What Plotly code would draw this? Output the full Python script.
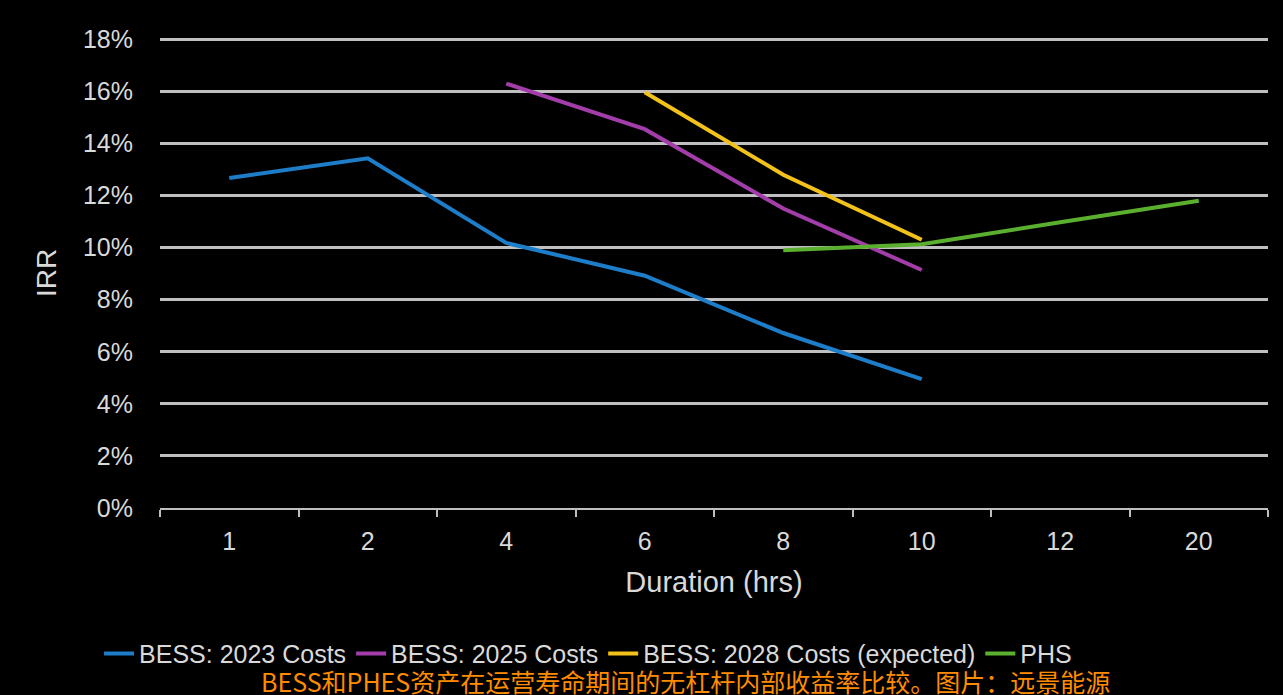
import plotly.graph_objects as go

# Storage duration categories (hours)
durations = ["1", "2", "4", "6", "8", "10", "12", "20"]

# Unlevered IRR (%) by duration
bess_2023 = [12.67, 13.43, 10.18, 8.92, 6.72, 4.95, None, None]
bess_2025 = [None, None, 16.3, 14.55, 11.5, 9.14, None, None]
bess_2028 = [None, None, None, 15.97, 12.8, 10.3, None, None]
phs = [None, None, None, None, 9.9, 10.13, 10.97, 11.8]

series_names = ["BESS: 2023 Costs", "BESS: 2025 Costs",
                "BESS: 2028 Costs (expected)", "PHS"]
series_values = [bess_2023, bess_2025, bess_2028, phs]
series_colors = ["#1E7DC8", "#A23DAA", "#F2C21B", "#5BAF2F"]

y_ticks = [0, 2, 4, 6, 8, 10, 12, 14, 16, 18]
y_tick_labels = [f"{v}%" for v in y_ticks]

caption = "BESS和PHES资产在运营寿命期间的无杠杆内部收益率比较。图片：远景能源"

FONT = "Liberation Sans, Arial, sans-serif"
TEXT = "#D9D9D9"
AXIS = "#BFBFBF"

fig = go.Figure()
for name, vals, color in zip(series_names, series_values, series_colors):
    fig.add_trace(go.Scatter(
        x=durations, y=vals, name=name, mode="lines",
        line=dict(color=color, width=4),
        connectgaps=False,
    ))

fig.update_layout(
    width=1283, height=695,
    paper_bgcolor="black", plot_bgcolor="black",
    margin=dict(l=160, r=15, t=38, b=187),
    font=dict(family=FONT, color=TEXT),
    showlegend=True,
    legend=dict(
        orientation="h", x=-0.055, xanchor="left", y=-0.31, yanchor="middle",
        font=dict(size=25, color=TEXT, family=FONT),
        itemwidth=30, tracegroupgap=0, bgcolor="rgba(0,0,0,0)",
    ),
    xaxis=dict(
        type="category", categoryorder="array", categoryarray=durations,
        range=[-0.5, len(durations) - 0.5],
        showgrid=False, showline=True, linecolor=AXIS, linewidth=2,
        ticks="outside", tickson="boundaries", ticklen=7, tickcolor=AXIS,
        tickwidth=2, ticklabelstandoff=10,
        tickfont=dict(size=25, color=TEXT),
        title=dict(text="Duration (hrs)", font=dict(size=29, color=TEXT), standoff=18),
        zeroline=False,
    ),
    yaxis=dict(
        range=[0, 18.05], tickvals=y_ticks, ticktext=y_tick_labels,
        showgrid=True, gridcolor=AXIS, gridwidth=2.5,
        showline=False, zeroline=False, ticks="",
        ticklabelstandoff=26,
        tickfont=dict(size=25, color=TEXT),
        title=dict(text="IRR", font=dict(size=28, color=TEXT), standoff=18),
    ),
)

fig.add_annotation(
    text=caption, xref="paper", yref="paper", x=0.474, y=-0.368,
    xanchor="center", yanchor="middle", showarrow=False,
    font=dict(size=25, color="#FF8C00", family="Noto Sans CJK SC, sans-serif"),
)

fig.write_html("out.html")
